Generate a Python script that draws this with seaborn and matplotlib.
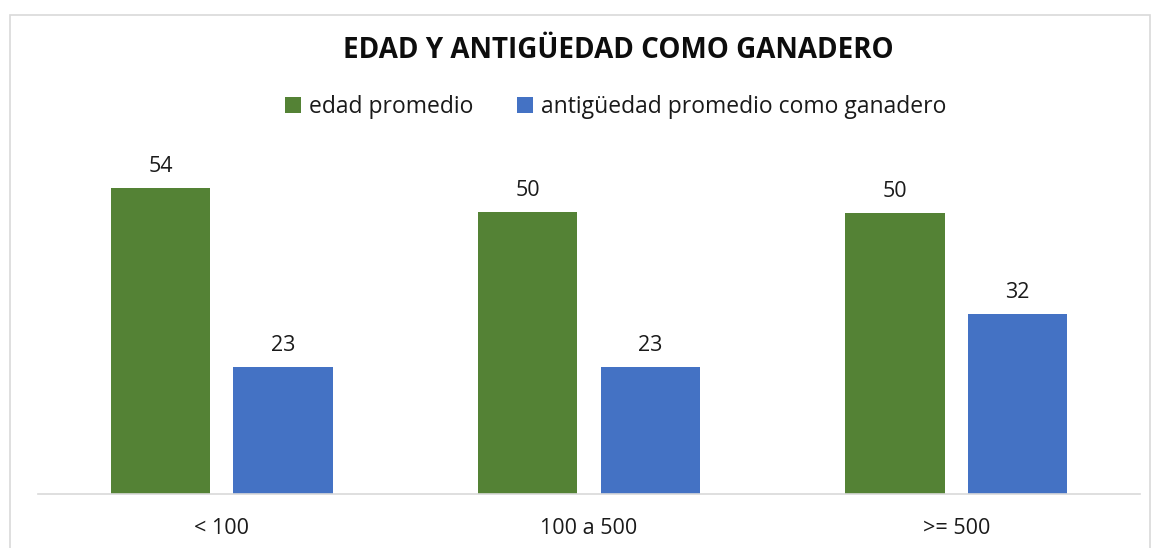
import pandas as pd
import matplotlib.pyplot as plt
import seaborn as sns
from matplotlib.patches import Rectangle

# datos
grupos = ["< 100", "100 a 500", ">= 500"]
series = ["edad promedio", "antigüedad promedio como ganadero"]
edad = [54.4, 50.2, 50.0]
antiguedad = [22.6, 22.6, 32.0]

df = pd.DataFrame({
    "grupo": grupos * 2,
    "serie": [series[0]] * 3 + [series[1]] * 3,
    "valor": edad + antiguedad,
})

sns.set_theme(style="white")
plt.rcParams['font.family'] = ['Open Sans', 'DejaVu Sans']

colores = {series[0]: "#548235", series[1]: "#4472C4"}
texto = "#1a1a1a"

fig = plt.figure(figsize=(11.6, 5.48), dpi=100)
ax = fig.add_axes([38 / 1160, 54 / 548, 1102 / 1160, 337 / 548])

sns.barplot(data=df, x="grupo", y="valor", hue="serie", order=grupos,
            hue_order=series, palette=colores, width=0.667, gap=0.19,
            saturation=1, linewidth=0, ax=ax, legend=True)

for cont in ax.containers:
    ax.bar_label(cont, fmt="%.0f", padding=8, fontsize=15.5, color=texto)

ax.set_ylim(0, 60)
ax.set_xlim(-0.5, 2.5)
ax.set_xlabel("")
ax.set_ylabel("")
ax.set_yticks([])
ax.tick_params(axis="x", length=0, pad=17, labelsize=15.5, labelcolor=texto)
for s in ["top", "right", "left"]:
    ax.spines[s].set_visible(False)
ax.spines["bottom"].set_color("#d9d9d9")
ax.spines["bottom"].set_linewidth(1.2)

handles, labels = ax.get_legend_handles_labels()
ax.get_legend().remove()
fig.legend(handles, labels, loc="center", bbox_to_anchor=(616 / 1160, 1 - 107 / 548),
           ncol=2, frameon=False, fontsize=16.5, handlelength=0.7, handleheight=0.7,
           handletextpad=0.35, columnspacing=1.9, labelcolor=texto)

fig.text(618 / 1160, 1 - 50 / 548, "EDAD Y ANTIGÜEDAD COMO GANADERO",
         ha="center", va="center", fontsize=20, fontweight="bold", color="#0d0d0d")

# marco del área del gráfico
fig.patches.append(Rectangle((10 / 1160, -0.05), 1140 / 1160, 1 - 15 / 548 + 0.05,
                             transform=fig.transFigure, fill=False,
                             edgecolor="#d9d9d9", linewidth=1.2))

fig.savefig("out.png", dpi=100)
